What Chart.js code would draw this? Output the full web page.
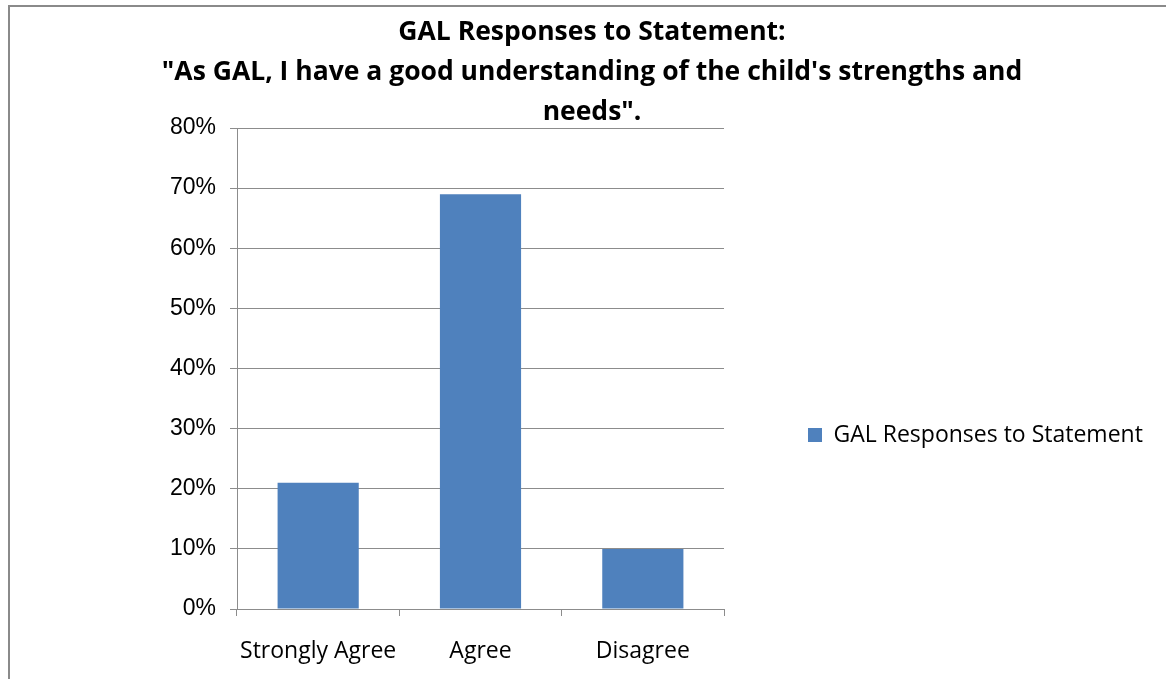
<!DOCTYPE html>
<html>
<head>
<meta charset="utf-8">
<script src="https://cdn.jsdelivr.net/npm/chart.js@4"></script>
<style>
  html, body { margin: 0; padding: 0; background: #fff; overflow: hidden; }
  #frame {
    position: absolute; left: 8px; top: 5px;
    border-left: 2px solid #8a8a8a; border-top: 2px solid #8a8a8a;
    width: 1156px; height: 856px; background: #fff;
  }
  canvas { display: block; }
</style>
</head>
<body>
<div id="frame"><canvas id="chart" width="1156" height="856"></canvas></div>
<script>
const categories = ['Strongly Agree', 'Agree', 'Disagree'];
const seriesName = 'GAL Responses to Statement';
const responses = [21, 69, 10];
const yTicks = [0, 10, 20, 30, 40, 50, 60, 70, 80];
const titleLines = [
    'GAL Responses to Statement:',
    '"As GAL, I have a good understanding of the child\'s strengths and',
    'needs".'
];

const W = 1156;
const legendSize = 23;
const legendPad = 84;

// legend width decides the side paddings so the plot lands where it should
const meas = document.createElement('canvas').getContext('2d');
meas.font = `${legendSize}px "Open Sans"`;
const textW = meas.measureText(seriesName).width;
const legendRight = 714 + legendPad + 14 + legendSize / 2 + textW;
const padR = W - legendRight - 10;
const padL = 1154 - legendRight;

new Chart(document.getElementById('chart'), {
    type: 'bar',
    data: {
        labels: categories,
        datasets: [{
            label: seriesName,
            data: responses,
            backgroundColor: '#4f81bd',
            borderWidth: 0,
            barPercentage: 0.5,
            categoryPercentage: 1
        }]
    },
    options: {
        responsive: false,
        animation: false,
        layout: { padding: { left: padL, right: padR, top: 0, bottom: 0 } },
        plugins: {
            title: {
                display: true,
                text: titleLines,
                color: '#000',
                font: { family: '"Open Sans"', size: 26.5, weight: 'bold', lineHeight: 40 / 26.5 },
                padding: { top: 5, bottom: -4 }
            },
            legend: {
                position: 'right',
                maxWidth: 600,
                labels: {
                    boxWidth: 14, boxHeight: 14, padding: legendPad,
                    color: '#000',
                    font: { family: '"Open Sans"', size: legendSize }
                }
            },
            tooltip: { enabled: false }
        },
        scales: {
            x: {
                grid: { drawOnChartArea: false, drawTicks: true, tickLength: 7, color: '#8c8c8c' },
                border: { color: '#8c8c8c' },
                ticks: { color: '#000', padding: 22, font: { family: '"Open Sans"', size: 23 } },
                afterFit: s => { s.height = 254; }
            },
            y: {
                min: 0, max: 80,
                afterBuildTicks: s => { s.ticks = yTicks.map(v => ({ value: v })); },
                grid: { color: '#8c8c8c', tickLength: 7 },
                border: { color: '#8c8c8c' },
                ticks: {
                    color: '#000', padding: 14,
                    font: { family: '"Liberation Sans"', size: 23 },
                    callback: v => v + '%'
                },
                afterFit: s => { s.width = 227 - padL; }
            }
        }
    }
});
</script>
</body>
</html>
